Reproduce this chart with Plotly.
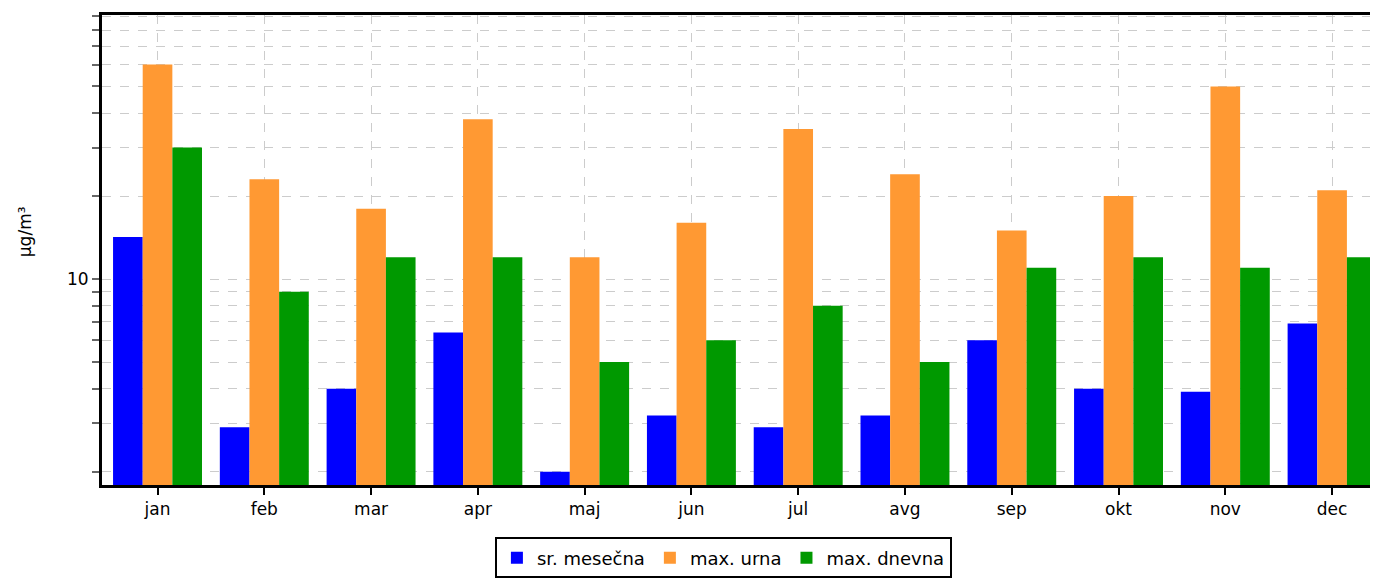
import plotly.graph_objects as go

months = ["jan", "feb", "mar", "apr", "maj", "jun", "jul", "avg", "sep", "okt", "nov", "dec"]
sr_mesecna = [14.2, 2.9, 4.0, 6.4, 2.0, 3.2, 2.9, 3.2, 6.0, 4.0, 3.9, 6.9]
max_urna = [60, 23, 18, 38, 12, 16, 35, 24, 15, 20, 50, 21]
max_dnevna = [30, 9, 12, 12, 5, 6, 8, 5, 11, 12, 11, 12]

y_tickvals = [2, 3, 4, 5, 6, 7, 8, 9, 10, 20, 30, 40, 50, 60, 70, 80, 90]
y_ticktext = ["" if v != 10 else "10" for v in y_tickvals]

fig = go.Figure()
fig.add_trace(go.Bar(name="sr. mesečna", x=months, y=sr_mesecna, marker=dict(color="#0000ff", line_width=0)))
fig.add_trace(go.Bar(name="max. urna", x=months, y=max_urna, marker=dict(color="#ff9933", line_width=0)))
fig.add_trace(go.Bar(name="max. dnevna", x=months, y=max_dnevna, marker=dict(color="#009900", line_width=0)))

fig.update_layout(
    width=1370, height=571,
    margin=dict(l=94, r=0, t=7, b=94),
    barmode="group", bargap=0.167, bargroupgap=0,
    plot_bgcolor="white", paper_bgcolor="white",
    font=dict(family="DejaVu Sans", size=17, color="#000"),
    showlegend=True,
    legend=dict(orientation="h", x=0.487, xanchor="center", y=-0.1117, yanchor="top",
                bordercolor="#000", borderwidth=2, font=dict(size=18),
                itemwidth=30, tracegroupgap=0),
    annotations=[dict(text="μg/m³", textangle=-90, xref="paper", yref="paper",
                      x=-0.0603, y=0.538, xanchor="center", yanchor="middle",
                      showarrow=False, font=dict(size=17))],
)
fig.update_xaxes(
    type="category", range=[-0.52, 11.43],
    showline=True, linecolor="#000", linewidth=3, mirror=True,
    ticks="outside", ticklen=7, tickwidth=2, tickcolor="#000",
    showgrid=True, gridcolor="#cccccc", griddash="dash", gridwidth=1,
    tickfont=dict(size=17),
)
fig.update_yaxes(
    type="log", range=[0.253, 1.958],
    tickvals=y_tickvals, ticktext=y_ticktext,
    showline=True, linecolor="#000", linewidth=3,
    ticks="outside", ticklen=7, tickwidth=2, tickcolor="#666",
    showgrid=True, gridcolor="#cccccc", griddash="dash", gridwidth=1,
    tickfont=dict(size=17),
)

fig.write_html("out.html")
